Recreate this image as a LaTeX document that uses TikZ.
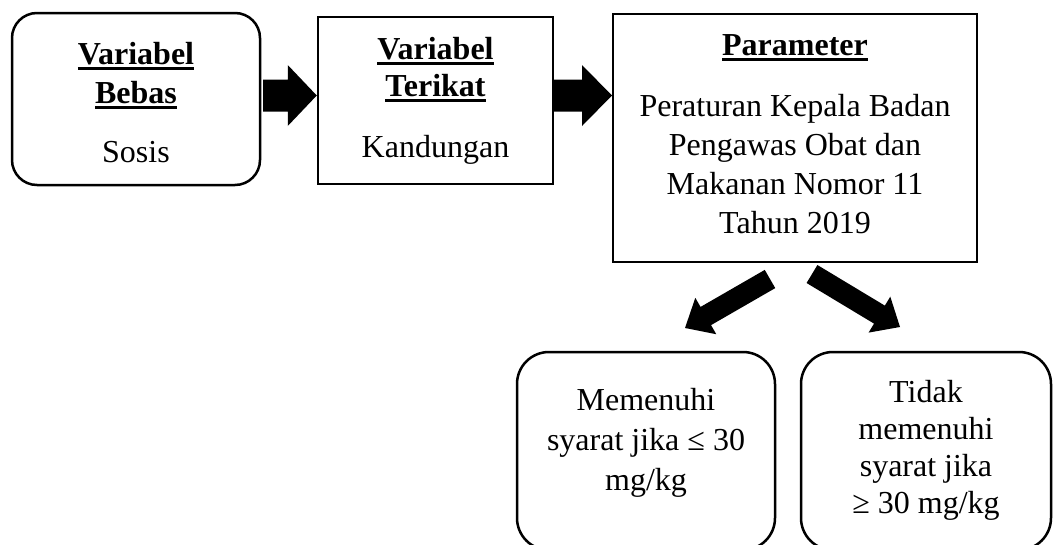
\documentclass[tikz,border=0pt]{standalone}
\usepackage{fontspec}
\setmainfont{Liberation Serif}
\usetikzlibrary{calc}
\newcommand\myul[1]{\setbox0\hbox{#1}\rlap{\rule[-5.4pt]{\wd0}{2.8pt}}\box0}
\newcommand\firststrut{\rule{0pt}{26pt}}
\newcommand\blockarrow[5]{%
  \coordinate (bh) at ($(#2)!#5!(#1)$);
  \fill[black] ($(#1)!#3!90:(#2)$) -- ($(bh)!#3!90:(#2)$) -- ($(bh)!#4!90:(#2)$)
    -- (#2) -- ($(bh)!#4!-90:(#2)$) -- ($(bh)!#3!-90:(#2)$) -- ($(#1)!#3!-90:(#2)$) -- cycle;}
\begin{document}
\begin{tikzpicture}[x=1pt,y=1pt,
  box/.style={draw=black, line width=2.5pt, inner sep=0pt},
  rbox/.style={box, rounded corners=#1},
  txt/.style={inner sep=0pt, align=center, anchor=north, font=\fontsize{32}{39}\selectfont},
  ttl/.style={txt, font=\fontsize{32}{39}\selectfont\bfseries}]
\useasboundingbox (0,0) rectangle (1053,-544);
\clip (0,0) rectangle (1053,-544);
% boxes
\node[rbox=25pt, minimum width=248pt, minimum height=172pt] (b1) at (136,-99) {};
\node[box, minimum width=235pt, minimum height=167pt] (b2) at (435.5,-100.5) {};
\node[box, minimum width=364pt, minimum height=248pt] (b3) at (795,-138) {};
\node[rbox=32pt, minimum width=258pt, minimum height=198pt] (b4) at (646,-451) {};
\node[rbox=32pt, minimum width=250pt, minimum height=198pt] (b5) at (926,-451) {};
% texts
\node[ttl] (t1) at (136,-38) {\firststrut\myul{Variabel}\\\myul{Bebas}};
\node[txt] (s1) at (136,-136) {\firststrut Sosis};
\node[ttl, font=\fontsize{32}{37}\selectfont\bfseries] (t2) at (435.5,-33) {\firststrut\myul{Variabel}\\\myul{Terikat}};
\node[txt] (s2) at (435.5,-131) {\firststrut Kandungan};
\node[ttl] (t3) at (795,-29) {\firststrut\myul{Parameter}};
\node[txt] (s3) at (795,-90) {\firststrut Peraturan Kepala Badan\\Pengawas Obat dan\\Makanan Nomor 11\\Tahun 2019};
\node[txt, font=\fontsize{32}{40}\selectfont] (s4) at (646,-384) {\firststrut Memenuhi\\syarat jika ≤ 30\\mg/kg};
\node[txt, font=\fontsize{32}{37}\selectfont] (s5) at (926,-376) {\firststrut Tidak\\memenuhi\\syarat jika\\≥ 30 mg/kg};
% arrows
\coordinate (a1s) at (263,-95.5);
\coordinate (a1e) at (b2.west |- 0,-95.5);
\coordinate (a2s) at (554,-95.5);
\coordinate (a2e) at (612,-95.5);
\coordinate (a3s) at (770,-279);
\coordinate (a3e) at (685,-328);
\coordinate (a4s) at (812,-274);
\coordinate (a4e) at (900,-327);
\blockarrow{a1s}{a1e}{16pt}{30.5pt}{29pt}
\blockarrow{a2s}{a2e}{16pt}{30.5pt}{30pt}
\blockarrow{a3s}{a3e}{10.5pt}{21pt}{24pt}
\blockarrow{a4s}{a4e}{10.5pt}{21pt}{24pt}
\end{tikzpicture}
\end{document}
